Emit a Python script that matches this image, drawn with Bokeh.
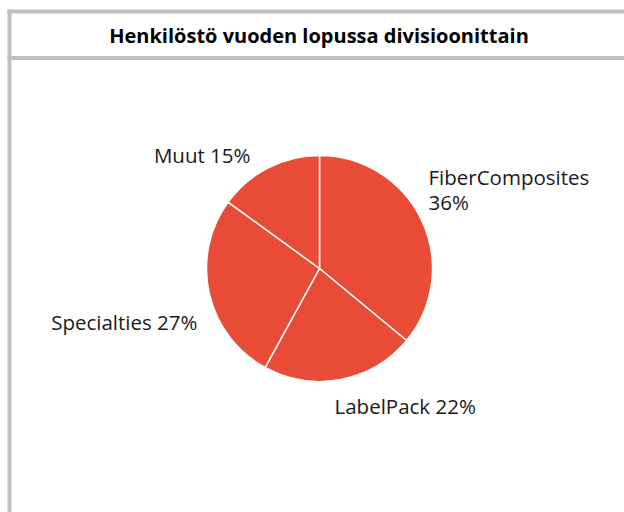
import math
from bokeh.plotting import figure
from bokeh.models import Range1d, ColumnDataSource
from bokeh.core.properties import value
from bokeh.embed import file_html
from bokeh.resources import INLINE

# ---- data ----
title_text = "Henkilöstö vuoden lopussa divisioonittain"
divisions = ["FiberComposites", "LabelPack", "Specialties", "Muut"]
shares = [36, 22, 27, 15]

# ---- layout ----
W, H = 624, 512
FONT = "Open Sans"
RED = "#E84C36"
GREY = "#C0C0C0"
cx, cy, R = 319, 244, 113
LINE_STEP = 25

p = figure(width=W, height=H, output_backend="svg", toolbar_location=None,
           x_range=Range1d(0, W), y_range=Range1d(0, H), min_border=0)
p.axis.visible = False
p.grid.visible = False
p.outline_line_color = None
p.background_fill_color = "white"
p.border_fill_color = "white"

# frame
p.segment(x0=[9, 7, 7], y0=[503, 501, 454.5], x1=[9, W + 2, W + 2], y1=[-2, 501, 454.5],
          line_color=GREY, line_width=4)

# title
p.text(x=[318.5], y=[477], text=[title_text], text_font=value(FONT),
       text_font_style="bold", text_font_size="20px", text_align="center",
       text_baseline="alphabetic", text_color="#000000")

# pie
total = sum(shares)
starts, ends, mids = [], [], []
acc = 0.0
for s in shares:
    a0 = acc / total * 2 * math.pi
    acc += s
    a1 = acc / total * 2 * math.pi
    # clockwise from 12 o'clock -> bokeh anticlockwise from +x
    starts.append(math.pi / 2 - a1)
    ends.append(math.pi / 2 - a0)
    mids.append((a0 + a1) / 2)

src = ColumnDataSource(dict(start=starts, end=ends, name=divisions, share=shares))
p.wedge(x=cx, y=cy, radius=R, radius_units="screen", start_angle="start",
        end_angle="end", fill_color=RED, line_color="white", line_width=1.5,
        source=src)

# labels
label_text = []
for n, s in zip(divisions, shares):
    if len(n) > 12:
        label_text.append(f"{n}\n{s}%")
    else:
        label_text.append(f"{n} {s}%")

# label anchor offsets (pixels, relative to pie centre) and alignment
offsets = [(109, 92), (15, -137), (-122, -53), (-69, 114)]
lx, ly, lt, al = [], [], [], []
for (dx, dy), m, t in zip(offsets, mids, label_text):
    for i, line in enumerate(t.split("\n")):
        lx.append(cx + dx)
        ly.append(cy + dy - i * LINE_STEP)
        lt.append(line)
        al.append("left" if math.sin(m) > 0 else "right")

lsrc = ColumnDataSource(dict(x=lx, y=ly, t=lt, a=al))
p.text(x="x", y="y", text="t", text_align="a", source=lsrc,
       text_font=value(FONT), text_font_size="20.5px", text_baseline="alphabetic",
       text_color="#1a1a1a")

open("out.html", "w").write(file_html(p, INLINE))
